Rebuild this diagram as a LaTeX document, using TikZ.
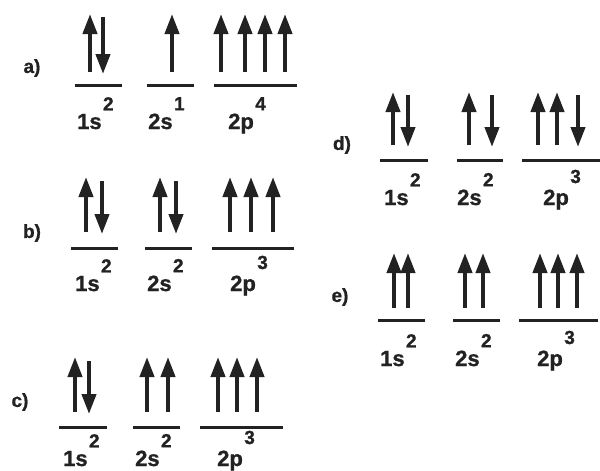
\documentclass[tikz,border=0pt]{standalone}
\usepackage{fontspec}
\setmainfont{Liberation Sans}[BoldFeatures={FakeBold=1}]
\usepackage{tikz}
\usetikzlibrary{arrows.meta}
\definecolor{ink}{HTML}{222222}

\tikzset{
  orbital/.style={ink, line width=3pt},
  spin/.style={ink, line width=4pt, -{Triangle[length=20pt,width=14pt]}},
  tag/.style={ink, font=\fontsize{19}{22}\selectfont\bfseries, inner sep=0pt},
  conf/.style={ink, font=\fontsize{22}{24}\selectfont\bfseries, anchor=base west, inner sep=0pt},
  sup/.style={ink, font=\fontsize{19}{20}\selectfont\bfseries, anchor=south west, inner sep=0pt, xshift=1pt, yshift=3pt}
}

\begin{document}
\begin{tikzpicture}[x=1pt, y=-1pt]
  \useasboundingbox (0,0) rectangle (600,471);

  % a)
  \node[tag] (ta) at (32,68) {a)};
  \draw[orbital] (75,85) -- (122,85);
  \draw[orbital] (147,85) -- (194,85);
  \draw[orbital] (214,85) -- (297,85);
  \foreach \x in {90,172,221,245,265,285}
    \draw[spin] (\x,72) -- (\x,14);
  \draw[spin] (103,17) -- (103,74);
  \node[conf] (a1s) at (77,129) {1s};
  \node[sup] at (a1s.north east) {2};
  \node[conf] (a2s) at (148,129) {2s};
  \node[sup] at (a2s.north east) {1};
  \node[conf] (a2p) at (228,129) {2p};
  \node[sup] at (a2p.north east) {4};

  % b)
  \node[tag] (tb) at (32,233) {b)};
  \draw[orbital] (71,248) -- (118,248);
  \draw[orbital] (145,248) -- (192,248);
  \draw[orbital] (212,248) -- (294,248);
  \foreach \x in {86,160,230,251,273}
    \draw[spin] (\x,232) -- (\x,177);
  \foreach \x in {102,176}
    \draw[spin] (\x,181) -- (\x,234);
  \node[conf] (b1s) at (75,291) {1s};
  \node[sup] at (b1s.north east) {2};
  \node[conf] (b2s) at (147,291) {2s};
  \node[sup] at (b2s.north east) {2};
  \node[conf] (b2p) at (230,291) {2p};
  \node[sup, yshift=3pt] at (b2p.north east) {3};

  % c)
  \node[tag] (tc) at (20,402) {c)};
  \draw[orbital] (59,427) -- (107,427);
  \draw[orbital] (133,427) -- (180,427);
  \draw[orbital] (200,427) -- (283,427);
  \foreach \x in {75,147,168,218,237,257}
    \draw[spin] (\x,412) -- (\x,357);
  \draw[spin] (89,361) -- (89,414);
  \node[conf] (c1s) at (63,466) {1s};
  \node[sup] at (c1s.north east) {2};
  \node[conf] (c2s) at (135,466) {2s};
  \node[sup] at (c2s.north east) {2};
  \node[conf] (c2p) at (217,466) {2p};
  \node[sup, yshift=3pt] at (c2p.north east) {3};

  % d)
  \node[tag] (td) at (342,145) {d)};
  \draw[orbital] (380,160) -- (428,160);
  \draw[orbital] (457,160) -- (503,160);
  \draw[orbital] (522,160) -- (600,160);
  \foreach \x in {393,469,538,557}
    \draw[spin] (\x,145) -- (\x,92);
  \foreach \x in {408,492,578}
    \draw[spin] (\x,95) -- (\x,147);
  \node[conf] (d1s) at (384,205) {1s};
  \node[sup] at (d1s.north east) {2};
  \node[conf] (d2s) at (457,205) {2s};
  \node[sup] at (d2s.north east) {2};
  \node[conf] (d2p) at (543,205) {2p};
  \node[sup, yshift=3pt] at (d2p.north east) {3};

  % e)
  \node[tag] (te) at (340,297) {e)};
  \draw[orbital] (378,320) -- (425,320);
  \draw[orbital] (453,320) -- (500,320);
  \draw[orbital] (519,320) -- (598,320);
  \foreach \x in {394,408,465,483,540,558,577}
    \draw[spin] (\x,308) -- (\x,253);
  \node[conf] (e1s) at (380,366) {1s};
  \node[sup] at (e1s.north east) {2};
  \node[conf] (e2s) at (455,366) {2s};
  \node[sup] at (e2s.north east) {2};
  \node[conf] (e2p) at (537,366) {2p};
  \node[sup, yshift=3pt] at (e2p.north east) {3};
\end{tikzpicture}
\end{document}
